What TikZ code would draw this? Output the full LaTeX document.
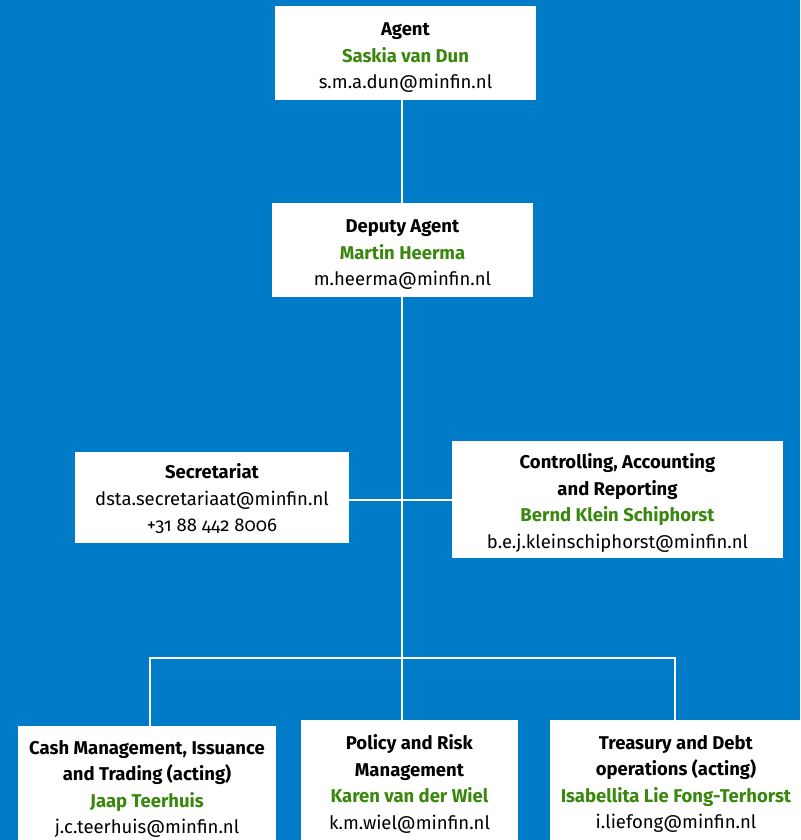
\documentclass[tikz,border=0pt]{standalone}
\usepackage{fontspec}
\setmainfont[Numbers=OldStyle]{Fira Sans}
\usetikzlibrary{positioning}
\definecolor{dstablue}{RGB}{0,123,199}
\definecolor{dstagreen}{RGB}{57,135,13}
\newcommand{\staff}[1]{\textcolor{dstagreen}{\textbf{#1}}}
\newcommand{\headline}[2][22pt]{\rule{0pt}{#1}\textbf{#2}}
\tikzset{
orgchart/.style={x=1pt,y=-1pt},
unit/.style={rectangle,fill=white,align=center,inner sep=0pt,
font=\fontsize{18.5}{26.5}\selectfont,minimum width=#1},
unit/.default={261pt},
link/.style={draw=white,line width=2.5pt},
}

\begin{document}
\begin{tikzpicture}[orgchart]
\fill[dstablue] (0,0) rectangle (800,840);
\useasboundingbox (0,0) rectangle (800,840);

\coordinate (hub) at (402,500);
\coordinate (fork) at (402,658);
\coordinate (forkL) at (150,658);
\coordinate (forkR) at (675,658);

\node[unit,minimum height=94pt] (agent) at (405.5,53)
  {\headline{Agent}\\ \staff{Saskia van Dun}\\ s.m.a.dun@minfin.nl};
\node[unit,minimum height=94pt] (deputy) at (402.5,250)
  {\headline{Deputy Agent}\\ \staff{Martin Heerma}\\ m.heerma@minfin.nl};
\node[unit=274pt,minimum height=91pt] (secr) at (212,497.5)
  {\headline[18pt]{Secretariat}\\ dsta.secretariaat@minfin.nl\\ +31 88 442 8006};
\node[unit=331pt,minimum height=117pt] (ctrl) at (617.5,499.5)
  {\headline{Controlling, Accounting}\\ \textbf{and Reporting}\\
   \staff{Bernd Klein Schiphorst}\\ b.e.j.kleinschiphorst@minfin.nl};
\node[unit=258pt,minimum height=126pt] (cash) at (147,789)
  {\textbf{Cash Management, Issuance}\\ \textbf{and Trading (acting)}\\
   \staff{Jaap Teerhuis}\\ j.c.teerhuis@minfin.nl};
\node[unit=217pt,minimum height=128pt] (policy) at (409.5,784)
  {\textbf{Policy and Risk}\\ \textbf{Management}\\
   \staff{Karen van der Wiel}\\ k.m.wiel@minfin.nl};
\node[unit=252pt,minimum height=128pt] (treasury) at (676,784)
  {\textbf{Treasury and Debt}\\ \textbf{operations (acting)}\\
   \staff{Isabellita Lie Fong-Terhorst}\\ i.liefong@minfin.nl};

\path[link] (agent.south -| fork) edge (deputy.north -| fork)
  (deputy.south -| fork) edge (fork)
  (secr.east |- hub) edge (ctrl.west |- hub)
  (fork) edge (policy.north -| fork);
\draw[link] (cash.north -| forkL) -- (forkL) -- (forkR) -- (treasury.north -| forkR);
\end{tikzpicture}
\end{document}
